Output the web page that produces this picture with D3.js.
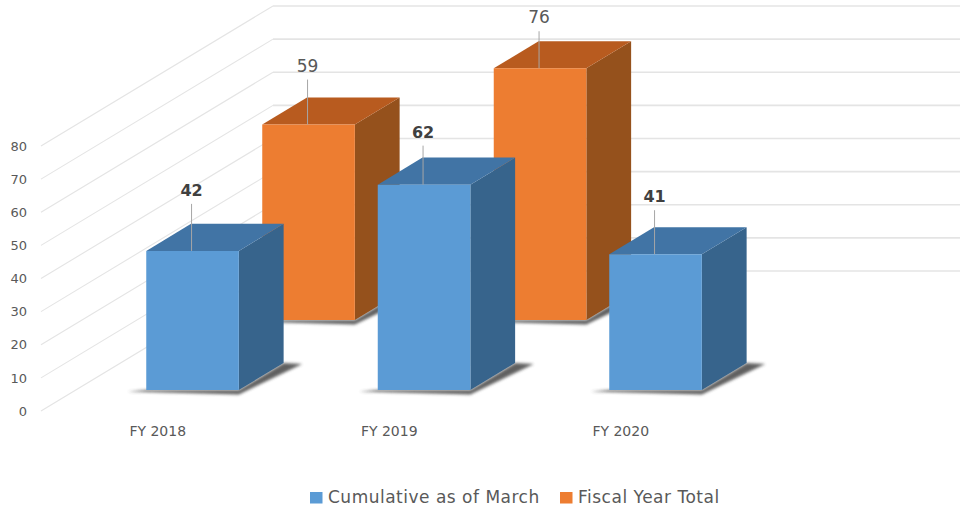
<!DOCTYPE html>
<html>
<head>
<meta charset="utf-8">
<script src="https://d3js.org/d3.v7.min.js"></script>
<style>
  html, body { margin: 0; padding: 0; background: #fff; }
  svg { display: block; font-family: "DejaVu Sans", sans-serif; }
</style>
</head>
<body>
<svg id="chart"></svg>
<script>
const categories = ["FY 2018", "FY 2019", "FY 2020"];
const seriesNames = ["Cumulative as of March", "Fiscal Year Total"];
const cumulative = [42, 62, 41];
const fiscalTotal = [59, 76, null];
const yTicks = [0, 10, 20, 30, 40, 50, 60, 70, 80];

const width = 960;
const height = 510;
const svg = d3.select("#chart").attr("width", width).attr("height", height);

// oblique projection: depth 0 is the front of the floor, depth 1 the back wall
const depthX = 232;
const depthY = -140;

const x = d3.scaleBand().domain(categories).range([42, 736.5]).paddingInner(0.6).paddingOuter(0.3);
const y = d3.scaleLinear().domain([0, 80]).range([411, 146]);

// leader lengths differ per bar in the original, so they sit with the styles
const palette = [
  { front: "#5b9bd5", top: "#4174a5", side: "#37648c", depth: [0.15, 0.343], bold: true, size: 16, leader: [47, 39, 44] },
  { front: "#ed7d31", top: "#b85b1f", side: "#95511c", depth: [0.65, 0.843], bold: false, size: 17, leader: [45, 37, 0] },
];

function project(px, value, t) {
  return [px + t * depthX, y(value) + t * depthY];
}

const defs = svg.append("defs");
defs.append("filter").attr("id", "soft").attr("x", "-20%").attr("y", "-40%").attr("width", "140%").attr("height", "180%")
  .append("feGaussianBlur").attr("stdDeviation", 1.8);

// gridlines: up the side wall, then along the back wall
const grid = svg.append("g").attr("fill", "none").attr("stroke", "#e4e4e4");
yTicks.forEach((tick) => {
  const a = project(x.range()[0] - 1, tick, 0);
  const b = project(x.range()[0] - 1, tick, 1);
  grid.append("line").attr("x1", a[0]).attr("y1", a[1]).attr("x2", b[0]).attr("y2", b[1]).attr("stroke-width", 1.1);
  grid.append("line").attr("x1", b[0]).attr("y1", b[1]).attr("x2", width).attr("y2", b[1]).attr("stroke-width", 1.6);
});

// axes
const yAxis = svg.append("g").attr("transform", "translate(33,0)").call(d3.axisLeft(y).tickValues(yTicks).tickSize(0).tickPadding(6));
yAxis.select(".domain").remove();
yAxis.selectAll("text").attr("fill", "#595959").style("font-size", "13px").style("font-family", '"DejaVu Sans", sans-serif');

const xAxis = svg.append("g").attr("transform", "translate(0,426.5)").call(d3.axisBottom(x).tickSize(0).tickPadding(0));
xAxis.select(".domain").remove();
xAxis.selectAll("text").attr("fill", "#595959").style("font-size", "14px").style("font-family", '"DejaVu Sans", sans-serif');

const toPath = (pts) => d3.line()(pts) + "Z";

function drawBar(g, category, value, style, i) {
  if (value == null) return;
  const x0 = x(category);
  const x1 = x0 + x.bandwidth();
  const [t0, t1] = style.depth;
  const xOff = (x1 - x0) * 0.2;

  // floor shadow
  const tip = project(x1 + xOff, 0, t1);
  g.append("path")
    .attr("d", toPath([
      [project(x0, 0, t0)[0] - xOff, project(x0, 0, t0)[1] + 1.5],
      [project(x1, 0, t0)[0], project(x1, 0, t0)[1] + 4.5],
      [tip[0], tip[1] + 1],
      project(x1, 0, t1),
      project(x1, 0, t0),
      project(x0, 0, t0),
    ]))
    .attr("fill", "#444")
    .attr("opacity", 0.85)
    .attr("filter", "url(#soft)");

  // side, top, front faces
  g.append("path")
    .attr("d", toPath([project(x1, 0, t0), project(x1, 0, t1), project(x1, value, t1), project(x1, value, t0)]))
    .attr("fill", style.side);
  g.append("path")
    .attr("d", toPath([project(x0, value, t0), project(x0, value, t1), project(x1, value, t1), project(x1, value, t0)]))
    .attr("fill", style.top);
  g.append("path")
    .attr("d", toPath([project(x0, 0, t0), project(x0, value, t0), project(x1, value, t0), project(x1, 0, t0)]))
    .attr("fill", style.front);

  // leader line and value label
  const c = project(x0 + x.bandwidth() / 2, value, t0);
  const len = style.leader[i];
  g.append("line")
    .attr("x1", c[0] - 1).attr("y1", c[1])
    .attr("x2", c[0] - 1).attr("y2", c[1] - len)
    .attr("stroke", "#a6a6a6").attr("stroke-width", 1);
  g.append("text")
    .attr("x", c[0] - 1).attr("y", c[1] - len - 8)
    .attr("text-anchor", "middle")
    .attr("fill", style.bold ? "#404040" : "#595959")
    .attr("font-size", style.size)
    .attr("font-weight", style.bold ? 700 : 400)
    .text(value);
}

// back row first so the front row overlaps it
const backRow = svg.append("g");
categories.forEach((c, i) => drawBar(backRow, c, fiscalTotal[i], palette[1], i));
const frontRow = svg.append("g");
categories.forEach((c, i) => drawBar(frontRow, c, cumulative[i], palette[0], i));

// legend
const legendX = [310, 560];
const legend = svg.append("g");
seriesNames.forEach((name, i) => {
  legend.append("rect")
    .attr("x", legendX[i]).attr("y", 492)
    .attr("width", 12.5).attr("height", 11.5)
    .attr("fill", palette[i].front);
  legend.append("text")
    .attr("x", legendX[i] + 18).attr("y", 503)
    .attr("fill", "#595959")
    .attr("font-size", 17)
    .attr("letter-spacing", 0.5)
    .text(name);
});
</script>
</body>
</html>
